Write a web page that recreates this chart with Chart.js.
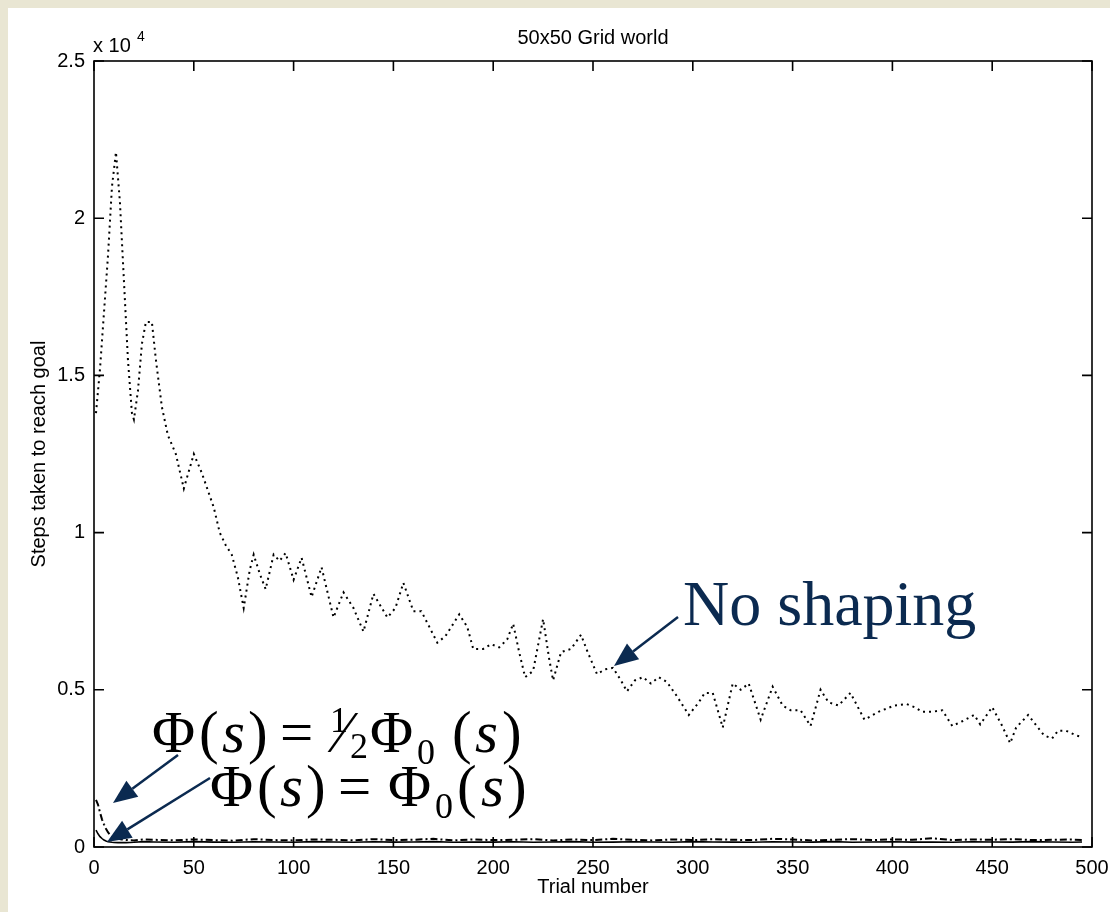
<!DOCTYPE html>
<html>
<head>
<meta charset="utf-8">
<title>50x50 Grid world</title>
<script src="https://cdn.jsdelivr.net/npm/chart.js@4.4.1/dist/chart.umd.min.js"></script>
<style>
  html, body { margin: 0; padding: 0; background: #e9e6d3; }
  #panel { position: absolute; left: 8px; top: 8px; width: 1102px; height: 904px; background: #fff; }
  #wrap { position: absolute; left: 0; top: 0; width: 1110px; height: 912px; }
</style>
</head>
<body>
<div id="panel"></div>
<div id="wrap"><canvas id="myChart" width="1110" height="912"></canvas></div>
<script>
// no shaping (dotted)
var noShapeTrials = [1,3,5,7,9,11,13,15,17,19,20,22,24,26,29,31,34,37,41,45,50,54,60,63,66,69,72,75,78,80,83,86,90,93,96,100,104,109,114,120,125,130,135,140,147,151,155,160,164,168,172,176,183,187,190,195,199,203,207,210,213,216,220,225,228,230,234,239,244,247,252,256,260,264,267,271,275,279,283,287,292,298,303,306,310,315,320,324,328,334,340,345,349,354,359,364,368,373,379,386,393,401,407,411,415,420,425,430,435,441,444,450,455,459,462,468,476,480,483,487,492,495];
var noShapeSteps = [13800,15200,17000,18800,21000,22100,20500,18000,15500,13800,13600,14500,16000,16700,16700,15500,14000,13100,12500,11400,12500,11900,10800,10000,9600,9300,8600,7600,8800,9300,8700,8200,9300,9100,9350,8500,9200,7950,8900,7300,8100,7600,6850,8050,7300,7600,8400,7500,7500,7000,6500,6700,7400,7000,6300,6300,6450,6350,6600,7100,6200,5400,5600,7250,6000,5300,6200,6300,6750,6250,5500,5650,5700,5300,4950,5300,5400,5200,5400,5250,4800,4200,4600,4900,4900,3800,5200,5000,5200,4050,5100,4500,4350,4350,3850,5000,4600,4500,4900,4050,4300,4500,4550,4450,4300,4300,4350,3850,4000,4200,3900,4450,3850,3300,3800,4200,3550,3450,3700,3700,3550,3500];

// shaped runs share the same trial points
var shapedTrials = [1,2,3,4,5,6,7,8,9,10,12,14,16,18,20,25,30,40,50,60,70,80,90,100,110,120,130,140,150,160,170,180,190,200,210,220,230,240,250,260,270,280,290,300,310,320,330,340,350,360,370,380,390,400,410,420,430,440,450,460,470,480,490,495];
var halfSteps = [1500,1350,1100,880,720,580,470,390,330,290,260,240,225,215,210,240,
  230,210,240,220,200,250,220,210,240,230,
  210,250,220,230,260,210,240,220,230,250,
  210,240,220,260,230,210,240,220,250,230,
  220,260,240,210,230,250,220,240,230,280,
  220,240,230,250,220,230,240,220];
var fullSteps = [540,420,330,270,220,190,170,160,150,145,140,140,140,145,150,170,
  160,150,170,155,150,165,160,150,170,160,
  150,165,155,160,170,150,160,155,165,150,
  160,170,150,155,165,160,150,170,160,155,
  150,165,160,155,170,150,160,165,155,160,
  150,165,160,155,170,160,150,160];

var xTicks = [0,50,100,150,200,250,300,350,400,450,500];
var yTicks = [0,5000,10000,15000,20000,25000];

function pts(xs, ys) {
  return xs.map(function (x, i) { return {x: x, y: ys[i]}; });
}

var sans = '"Liberation Sans", Arial, Helvetica, sans-serif';
var serif = '"Liberation Serif", "Times New Roman", serif';
var navy = '#0b2a50';

function arrow(ctx, x1, y1, x2, y2) {
  var a = Math.atan2(y2 - y1, x2 - x1), L = 24, W = 10;
  var bx = x2 - L * Math.cos(a), by = y2 - L * Math.sin(a);
  ctx.save();
  ctx.strokeStyle = navy; ctx.fillStyle = navy; ctx.lineWidth = 2.5;
  ctx.beginPath(); ctx.moveTo(x1, y1); ctx.lineTo(bx, by); ctx.stroke();
  ctx.beginPath();
  ctx.moveTo(x2, y2);
  ctx.lineTo(bx + W * Math.sin(a), by - W * Math.cos(a));
  ctx.lineTo(bx - W * Math.sin(a), by + W * Math.cos(a));
  ctx.closePath(); ctx.fill();
  ctx.restore();
}

// each piece placed at its own x
function pieces(ctx, y, list) {
  list.forEach(function (p) {
    ctx.font = p.f;
    ctx.fillText(p.t, p.x, y + (p.dy || 0));
  });
}

var boxPlugin = {
  id: 'box',
  afterDraw: function (chart) {
    var ctx = chart.ctx, a = chart.chartArea;
    var xs = chart.scales.x, ys = chart.scales.y;
    ctx.save();
    ctx.strokeStyle = '#000';
    ctx.lineWidth = 1.6;
    ctx.strokeRect(a.left, a.top, a.right - a.left, a.bottom - a.top);
    ctx.beginPath();
    xTicks.forEach(function (v) {
      var p = xs.getPixelForValue(v);
      ctx.moveTo(p, a.bottom); ctx.lineTo(p, a.bottom - 10);
      ctx.moveTo(p, a.top); ctx.lineTo(p, a.top + 10);
    });
    yTicks.forEach(function (v) {
      var p = ys.getPixelForValue(v);
      ctx.moveTo(a.left, p); ctx.lineTo(a.left + 10, p);
      ctx.moveTo(a.right, p); ctx.lineTo(a.right - 10, p);
    });
    ctx.stroke();

    // texts
    ctx.fillStyle = '#000';
    ctx.textAlign = 'center';
    ctx.textBaseline = 'alphabetic';
    ctx.font = '20px ' + sans;
    ctx.fillText('50x50 Grid world', (a.left + a.right) / 2, 44);
    ctx.fillText('Trial number', (a.left + a.right) / 2, 893);
    ctx.save();
    ctx.translate(45, (a.top + a.bottom) / 2);
    ctx.rotate(-Math.PI / 2);
    ctx.fillText('Steps taken to reach goal', 0, 0);
    ctx.restore();
    ctx.textAlign = 'left';
    ctx.fillText('x 10', 93, 52);
    ctx.font = '14px ' + sans;
    ctx.fillText('4', 137, 41);

    // annotations
    ctx.fillStyle = navy;
    ctx.font = '64px ' + serif;
    ctx.fillText('No shaping', 683, 625);
    arrow(ctx, 678, 617, 614, 666);

    ctx.fillStyle = '#000';
    var big = '59px ' + serif, it = 'italic 59px ' + serif, sm = '36px ' + serif;
    pieces(ctx, 752, [
      {t: '\u03A6', f: big, x: 152}, {t: '(', f: big, x: 199}, {t: 's', f: it, x: 222}, {t: ')', f: big, x: 248},
      {t: '=', f: big, x: 280},
      {t: '1', f: sm, x: 330, dy: -20}, {t: '\u2044', f: big, x: 338}, {t: '2', f: sm, x: 350, dy: 6},
      {t: '\u03A6', f: big, x: 370}, {t: '0', f: sm, x: 417, dy: 12},
      {t: '(', f: big, x: 452}, {t: 's', f: it, x: 475}, {t: ')', f: big, x: 502}
    ]);
    pieces(ctx, 806, [
      {t: '\u03A6', f: big, x: 210}, {t: '(', f: big, x: 257}, {t: 's', f: it, x: 280}, {t: ')', f: big, x: 306},
      {t: '=', f: big, x: 338},
      {t: '\u03A6', f: big, x: 388}, {t: '0', f: sm, x: 435, dy: 12},
      {t: '(', f: big, x: 457}, {t: 's', f: it, x: 481}, {t: ')', f: big, x: 507}
    ]);
    arrow(ctx, 178, 755, 113, 803);
    arrow(ctx, 210, 778, 107, 842);
    ctx.restore();
  }
};

new Chart('myChart', {
  type: 'line',
  data: {
    datasets: [{
      label: 'No shaping',
      data: pts(noShapeTrials, noShapeSteps),
      borderColor: '#000',
      borderWidth: 2,
      borderDash: [2, 4],
      pointRadius: 0,
      fill: false
    }, {
      label: 'Phi = 1/2 Phi0',
      data: pts(shapedTrials, halfSteps),
      borderColor: '#000',
      borderWidth: 2,
      borderDash: [7, 3, 2, 3],
      pointRadius: 0,
      fill: false
    }, {
      label: 'Phi = Phi0',
      data: pts(shapedTrials, fullSteps),
      borderColor: '#000',
      borderWidth: 1.6,
      pointRadius: 0,
      fill: false
    }]
  },
  options: {
    responsive: false,
    animation: false,
    layout: {padding: {top: 61, right: 18, left: 0, bottom: 0}},
    plugins: {legend: {display: false}, tooltip: {enabled: false}},
    scales: {
      x: {
        type: 'linear', min: 0, max: 500,
        grid: {display: false}, border: {display: false},
        ticks: {stepSize: 50, color: '#000', padding: 1, maxRotation: 0, font: {family: sans, size: 20}},
        afterFit: function (s) { s.height = 65; s.paddingLeft = 0; s.paddingRight = 0; }
      },
      y: {
        min: 0, max: 25000,
        grid: {display: false}, border: {display: false},
        ticks: {
          stepSize: 5000, color: '#000', padding: 1, font: {family: sans, size: 20},
          callback: function (v) { return String(v / 10000); }
        },
        afterFit: function (s) { s.width = 94; s.paddingTop = 0; s.paddingBottom = 0; }
      }
    }
  },
  plugins: [boxPlugin]
});
</script>
</body>
</html>
